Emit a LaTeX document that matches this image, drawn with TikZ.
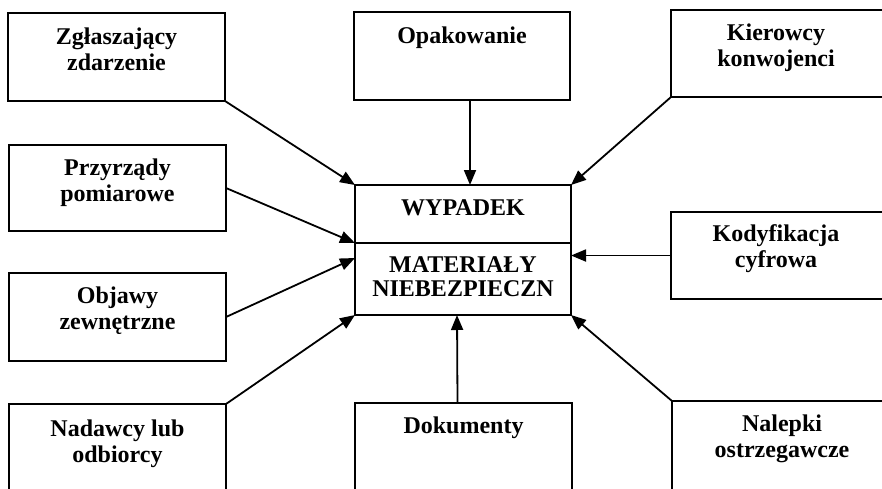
\documentclass[tikz,border=0pt]{standalone}
\usepackage{fontspec}
\setmainfont{Liberation Serif}
\usetikzlibrary{arrows.meta}
\begin{document}
\begin{tikzpicture}[x=1pt,y=-1pt,
  box/.style={draw, line width=1.8pt, anchor=north west, inner sep=0pt, outer sep=0pt},
  lbl/.style={anchor=north, inner sep=0pt, align=center, font=\fontsize{24}{26}\selectfont\bfseries},
  arr/.style={line width=1.8pt, -{Triangle[length=15pt,width=12pt]}}]
\clip (0,0) rectangle (882,488);
\fill[white] (0,0) rectangle (882,488);
% left column
\node[box, minimum width=217pt, minimum height=88pt] (zg) at (8,13) {};
\node[box, minimum width=217pt, minimum height=86pt] (prz) at (9,145) {};
\node[box, minimum width=217pt, minimum height=88pt] (obj) at (9,273) {};
\node[box, minimum width=217pt, minimum height=90pt] (nad) at (9,404) {};
% middle column
\node[box, minimum width=216pt, minimum height=88pt] (opa) at (354,12) {};
\node[box, minimum width=216pt, minimum height=58pt] (wyp) at (355,185) {};
\node[box, minimum width=216pt, minimum height=72pt] (mat) at (355,243) {};
\node[box, minimum width=217pt, minimum height=92pt] (dok) at (355,403) {};
% right column
\node[box, minimum width=216pt, minimum height=87pt] (kie) at (671,10) {};
\node[box, minimum width=216pt, minimum height=87pt] (kod) at (671,212) {};
\node[box, minimum width=216pt, minimum height=92pt] (nal) at (672,401) {};
% labels
\node[lbl] (tzg) at ([yshift=-13pt]zg.north) {\strut Zgłaszający\\zdarzenie};
\node[lbl] (tprz) at ([yshift=-12pt]prz.north) {\strut Przyrządy\\pomiarowe};
\node[lbl] (tobj) at ([yshift=-12pt]obj.north) {\strut Objawy\\zewnętrzne};
\node[lbl] (tnad) at ([yshift=-14pt]nad.north) {\strut Nadawcy lub\\odbiorcy};
\node[lbl] (topa) at ([yshift=-13pt]opa.north) {\strut Opakowanie};
\node[lbl] (twyp) at ([yshift=-12pt]wyp.north) {\strut WYPADEK};
\node[lbl, font=\fontsize{24}{24.5}\selectfont\bfseries] (tmat) at ([yshift=-12pt]mat.north) {\strut MATERIAŁY\\NIEBEZPIECZN};
\node[lbl] (tdok) at ([yshift=-12pt]dok.north) {\strut Dokumenty};
\node[lbl] (tkie) at ([xshift=-3pt,yshift=-12pt]kie.north) {\strut Kierowcy\\konwojenci};
\node[lbl] (tkod) at ([xshift=-3pt,yshift=-11pt]kod.north) {\strut Kodyfikacja\\cyfrowa};
\node[lbl] (tnal) at ([xshift=2pt,yshift=-12pt]nal.north) {\strut Nalepki\\ostrzegawcze};
% connectors
\draw[arr] (zg.south east) -- (wyp.north west);
\draw[arr] (prz.east) -- (wyp.south west);
\draw[arr] (obj.east) -- ([yshift=-15pt]mat.north west);
\draw[arr] (nad.north east) -- (mat.south west);
\draw[arr] ([xshift=8pt]opa.south) -- ([xshift=7pt]wyp.north);
\draw[arr] ([xshift=-6pt]dok.north) -- ([xshift=-6pt]mat.south);
\draw[arr] (kie.south west) -- (wyp.north east);
\draw[arr] (kod.west) -- (kod.west -| mat.east);
\draw[arr] (nal.north west) -- (mat.south east);
\end{tikzpicture}
\end{document}
